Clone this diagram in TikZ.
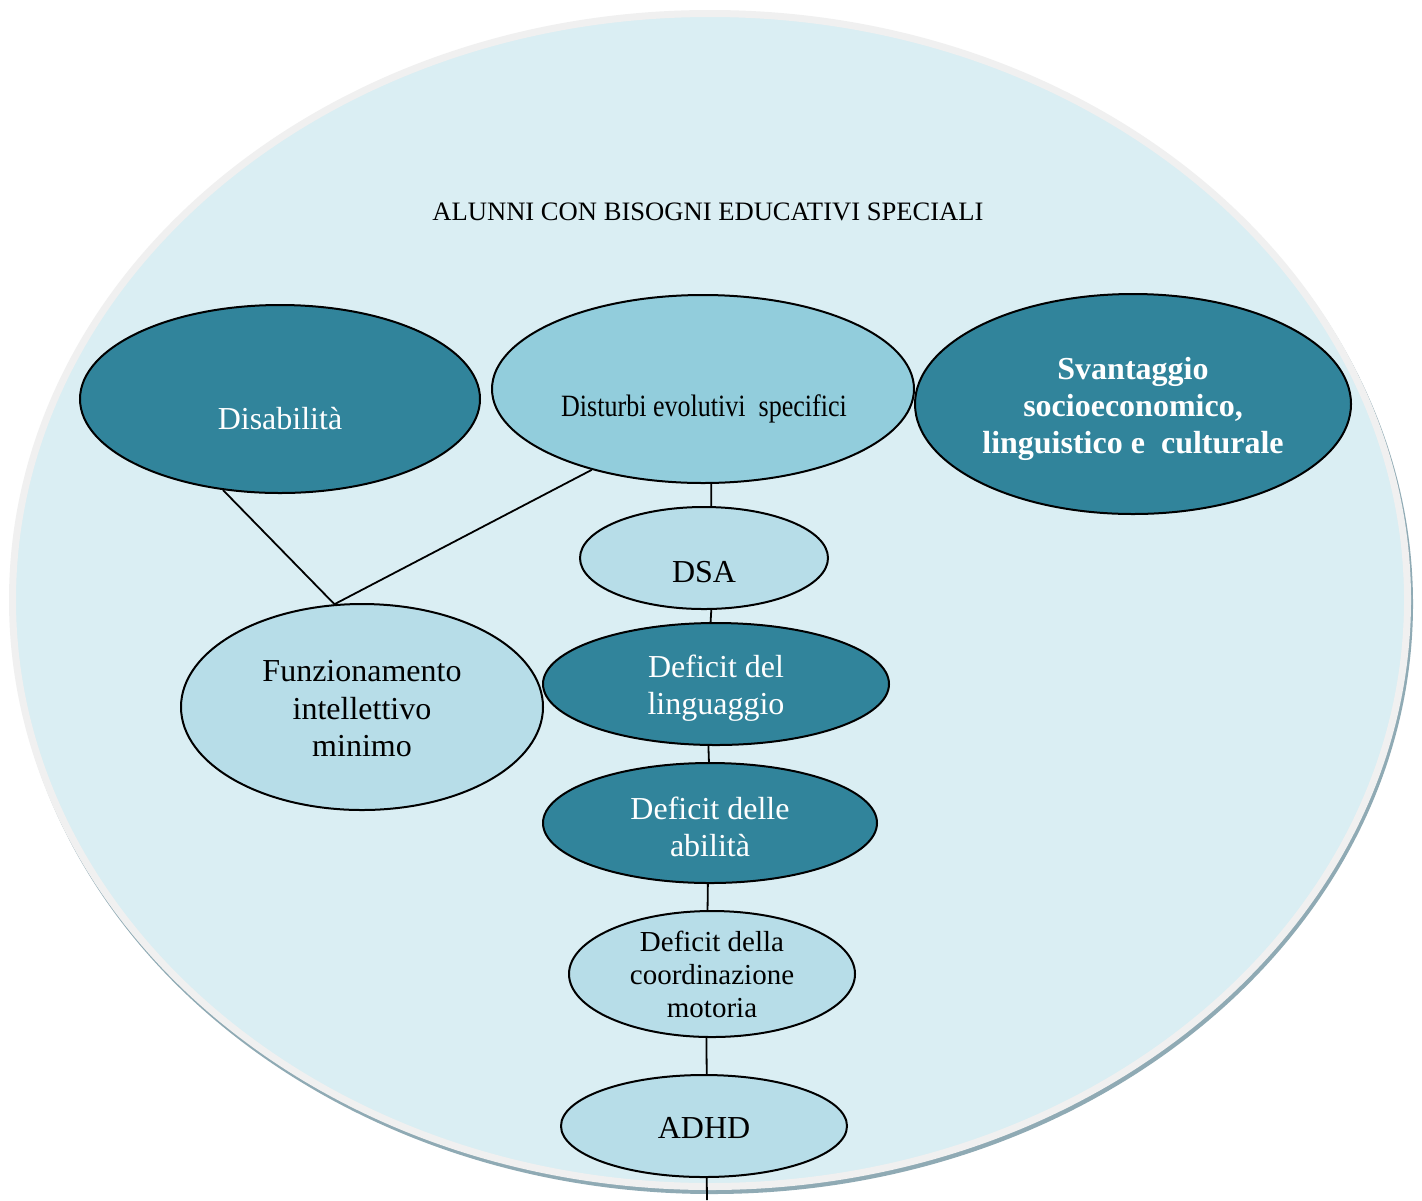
\documentclass[tikz,border=0pt]{standalone}
\usepackage{fontspec}
\setmainfont{Liberation Serif}
\newfontfamily\condserif[FakeStretch=0.84]{Liberation Serif}
\usetikzlibrary{shapes.geometric}
\definecolor{bgfill}{HTML}{DAEEF3}
\definecolor{bgrim}{HTML}{F0F0F0}
\definecolor{bgshadow}{HTML}{8FAAB4}
\definecolor{darkteal}{HTML}{31849B}
\definecolor{midblue}{HTML}{92CDDC}
\definecolor{lightblue}{HTML}{B7DDE8}
\begin{document}
\begin{tikzpicture}[x=0.5pt,y=-0.5pt,
  oval/.style 2 args={ellipse, draw=black, line width=1pt, inner sep=0pt,
    minimum width=#1pt, minimum height=#2pt},
  dark/.style={fill=darkteal},
  mid/.style={fill=midblue},
  light/.style={fill=lightblue},
  lbl/.style={align=center, inner sep=0pt, font=\fontsize{16}{18.75}\selectfont},
  wlbl/.style={lbl, text=white},
  link/.style={draw=black, line width=0.9pt}
]
\useasboundingbox (0,0) rectangle (1422,1200);
\fill[white] (0,0) rectangle (1422,1200);
% background big ellipse
\fill[bgshadow] (712,604) ellipse [x radius=350.5pt, y radius=295pt];
\filldraw[fill=bgfill, draw=bgrim, line width=3.5pt] (710,600) ellipse [x radius=348.75pt, y radius=293.25pt];

\node[inner sep=0pt, font=\fontsize{13.3}{16}\selectfont] (title) at (708,212) {ALUNNI CON BISOGNI EDUCATIVI SPECIALI};

% ellipses
\node[oval={200}{94}, dark] (dis) at (280,399) {};
\node[oval={211}{94}, mid] (des) at (703,389) {};
\node[oval={218}{110}, dark] (svs) at (1133,404) {};
\node[oval={124}{51}, light] (dsa) at (704,558) {};
\node[oval={173}{61}, dark] (lin) at (716,684) {};
\node[oval={167}{60}, dark] (abi) at (710,823) {};
\node[oval={143}{63}, light] (coo) at (712,974) {};
\node[oval={143}{51}, light] (adh) at (704,1126) {};
\node[oval={181}{103}, light] (fim) at (362,707) {};

% labels
\node[wlbl] (tdis) at (280,419) {Disabilità};
\node[lbl, font=\condserif\fontsize{15.5}{18}\selectfont] (tdes) at (704,409) {Disturbi evolutivi\ \ specifici};
\node[wlbl, font=\bfseries\fontsize{16}{18.5}\selectfont] (tsvs) at (1133,409) {Svantaggio\\socioeconomico,\\linguistico e\ \ culturale};
\node[lbl] (tdsa) at (704,572) {DSA};
\node[wlbl] (tlin) at (716,688) {Deficit del\\linguaggio};
\node[wlbl] (tabi) at (710,827) {Deficit delle\\abilità};
\node[lbl, font=\fontsize{14.5}{16.5}\selectfont] (tcoo) at (712,974) {Deficit della\\coordinazione\\motoria};
\node[lbl] (tadh) at (704,1128) {ADHD};
\node[lbl] (tfim) at (362,709) {Funzionamento\\intellettivo\\minimo};

% connectors
\draw[link] (dis.238) -- (fim.105);
\draw[link] (des.216) -- (fim.105);
\draw[link] (des.275) -- (dsa.82);
\draw[link] (dsa.278) -- (lin.95);
\draw[link] (lin.263) -- (abi.91);
\draw[link] (abi.268) -- (coo.94);
\draw[link] (coo.265) -- (adh.87);
\coordinate (tail) at (707,1200);
\draw[link] (adh.273) -- (tail);
\end{tikzpicture}
\end{document}
